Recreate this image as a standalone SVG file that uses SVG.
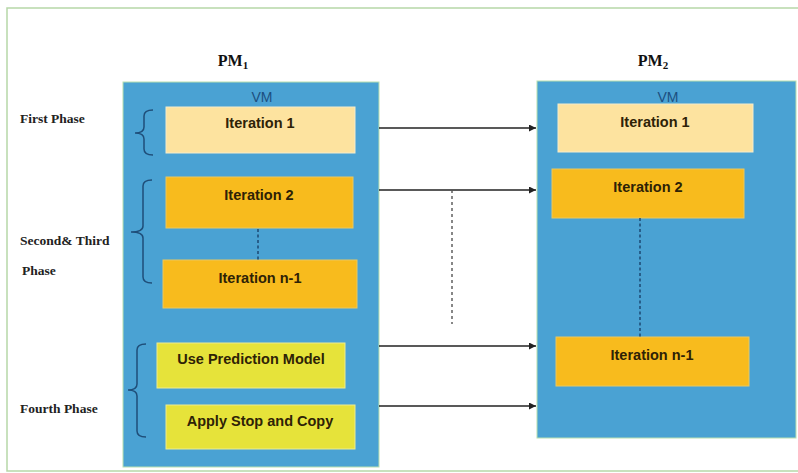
<svg xmlns="http://www.w3.org/2000/svg" width="798" height="473" viewBox="0 0 798 473">
<defs>
<marker id="ah" viewBox="0 0 10 10" refX="10" refY="5" markerWidth="7" markerHeight="7" markerUnits="userSpaceOnUse" orient="auto"><path d="M0,0 L10,5 L0,10 z" fill="#222"/></marker>
<style>
.pm{font-family:"Liberation Serif",serif;font-weight:bold;font-size:16px;fill:#111;text-anchor:middle}
.ph{font-family:"Liberation Serif",serif;font-weight:bold;font-size:13.5px;fill:#222}
.vm{fill:#4aa2d3;stroke:#b8e0b0;stroke-width:1}
.vmt{font-family:"Liberation Sans",sans-serif;font-size:14px;fill:#1c4f80;text-anchor:middle}
.bt{font-family:"Liberation Sans",sans-serif;font-weight:bold;font-size:14.5px;fill:#2e2206;text-anchor:middle}
.it1{fill:#fde39f;stroke:#f4eccc;stroke-width:1}
.it2{fill:#f8bb1d;stroke:#e9c860;stroke-width:1}
.yl{fill:#e6e33a;stroke:#eeec90;stroke-width:1}
.br{fill:none;stroke:#1f4e79;stroke-width:1.5}
.arr{stroke:#222;stroke-width:1.4;fill:none;marker-end:url(#ah)}
.dotg{stroke:#555;stroke-width:1.4;stroke-dasharray:3,3;fill:none}
.dotb{stroke:#1f4e79;stroke-width:1.6;stroke-dasharray:3,2.5;fill:none}
</style>
</defs>
<rect x="0" y="0" width="798" height="473" fill="#ffffff"/>
<rect x="7" y="8" width="795" height="463" fill="none" stroke="#b6d7a8" stroke-width="1.5"/>

<text class="pm" x="233" y="66">PM<tspan font-size="11" dy="3">1</tspan></text>
<text class="pm" x="653" y="66">PM<tspan font-size="11" dy="3">2</tspan></text>

<g id="labels">
<text class="ph" x="20" y="123">First Phase</text>
<text class="ph" x="20" y="245">Second&amp; Third</text>
<text class="ph" x="22" y="275">Phase</text>
<text class="ph" x="20" y="413">Fourth Phase</text>
</g>

<g id="pm1-vm">
<rect class="vm" x="123" y="82" width="256" height="385"/>
<text class="vmt" x="262" y="102">VM</text>
</g>
<g id="pm2-vm">
<rect class="vm" x="537" y="81" width="259" height="357"/>
<text class="vmt" x="668" y="102">VM</text>
</g>

<g id="braces">
<path class="br" d="M153,110 Q144,110 144,116 L144,127 Q144,133 135,133 Q144,133 144,139 L144,149 Q144,155 153,155"/>
<path class="br" d="M152,180 Q143,180 143,186 L143,226 Q143,232 131,232 Q143,232 143,238 L143,277 Q143,283 152,283"/>
<path class="br" d="M146,344 Q137,344 137,350 L137,384 Q137,390 128,390 Q137,390 137,396 L137,431 Q137,437 146,437"/>
</g>

<g id="l-it1"><rect class="it1" x="166" y="107" width="189" height="46"/><text class="bt" x="260" y="128">Iteration 1</text></g>
<g id="l-it2"><rect class="it2" x="166" y="177" width="187" height="51"/><text class="bt" x="259" y="200">Iteration 2</text></g>
<g id="l-itn"><rect class="it2" x="163" y="260" width="194" height="48"/><text class="bt" x="260" y="283">Iteration n-1</text></g>
<g id="l-pred"><rect class="yl" x="157" y="343" width="188" height="45"/><text class="bt" x="251" y="364">Use Prediction Model</text></g>
<g id="l-stop"><rect class="yl" x="166" y="405" width="189" height="44"/><text class="bt" x="260" y="426">Apply Stop and Copy</text></g>

<g id="r-it1"><rect class="it1" x="558" y="104" width="195" height="48"/><text class="bt" x="655" y="127">Iteration 1</text></g>
<g id="r-it2"><rect class="it2" x="552" y="169" width="192" height="49"/><text class="bt" x="648" y="192">Iteration 2</text></g>
<g id="r-itn"><rect class="it2" x="556" y="337" width="193" height="49"/><text class="bt" x="652" y="360">Iteration n-1</text></g>

<g id="connectors">
<line class="arr" x1="379" y1="128" x2="536" y2="128"/>
<line class="arr" x1="379" y1="190" x2="536" y2="190"/>
<line class="arr" x1="379" y1="346" x2="536" y2="346"/>
<line class="arr" x1="379" y1="406" x2="536" y2="406"/>
<line class="dotg" x1="452" y1="190" x2="452" y2="324"/>
<line class="dotb" x1="258" y1="229" x2="258" y2="260"/>
<line class="dotb" x1="640" y1="218" x2="640" y2="337"/>
</g>
</svg>
